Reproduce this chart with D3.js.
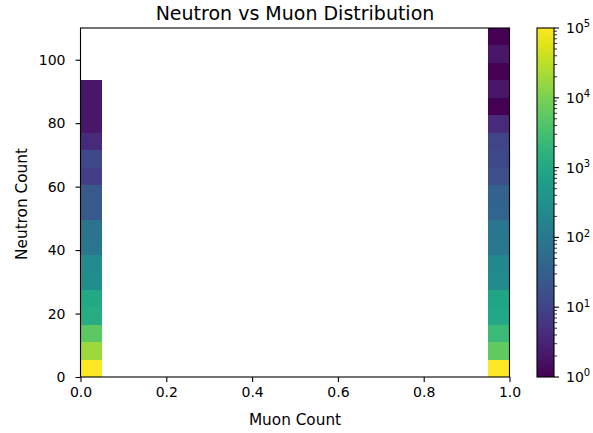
<!DOCTYPE html>
<html>
<head>
<meta charset="utf-8">
<script src="https://cdn.jsdelivr.net/npm/d3@7"></script>
<style>
  body { margin: 0; background: #fff; }
  text { font-family: "DejaVu Sans", sans-serif; fill: #000; }
</style>
</head>
<body>
<div id="chart"></div>
<script>
// bin edges of the 2d histogram
var muonEdges = [0, 0.05, 0.1, 0.15, 0.2, 0.25, 0.3, 0.35, 0.4, 0.45, 0.5,
                 0.55, 0.6, 0.65, 0.7, 0.75, 0.8, 0.85, 0.9, 0.95, 1.0];
var neutronEdges = [0, 5.5, 11, 16.5, 22, 27.5, 33, 38.5, 44, 49.5, 55,
                    60.5, 66, 71.5, 77, 82.5, 88, 93.5, 99, 104.5, 110];

// counts per neutron bin (bottom to top), for muon bin 0 and muon bin 19
var countsMuon0 = [100000, 18000, 5600, 1300, 1000, 280, 250, 90, 80, 25, 25,
                   8, 12, 4, 2, 2, 2];
var countsMuon1 = [95000, 6000, 2500, 1000, 900, 250, 220, 100, 90, 40, 35,
                   15, 12, 10, 4, 1, 2, 1, 2, 1];

var xTicks = [0, 0.2, 0.4, 0.6, 0.8, 1.0];
var yTicks = [0, 20, 40, 60, 80, 100];
var cbarDecades = [0, 1, 2, 3, 4, 5];

// flatten into cells
var cells = [];
countsMuon0.forEach(function(c, i) {
  cells.push({x0: muonEdges[0], x1: muonEdges[1], y0: neutronEdges[i], y1: neutronEdges[i + 1], count: c});
});
countsMuon1.forEach(function(c, i) {
  cells.push({x0: muonEdges[19], x1: muonEdges[20], y0: neutronEdges[i], y1: neutronEdges[i + 1], count: c});
});

var W = 593, H = 433;
var plot = {left: 80.5, right: 509.5, top: 28, bottom: 377};
var cbar = {left: 537, right: 554};

var x = d3.scaleLinear().domain([0, 1]).range([plot.left, plot.right]);
var y = d3.scaleLinear().domain([0, 110]).range([plot.bottom, plot.top]);
var color = d3.scaleSequentialLog(d3.interpolateViridis).domain([1, 1e5]);
var cy = d3.scaleLog().domain([1, 1e5]).range([plot.bottom, plot.top]);

var svg = d3.select("#chart").append("svg")
    .attr("width", W)
    .attr("height", H);

// histogram cells
svg.append("g")
    .attr("shape-rendering", "crispEdges")
  .selectAll("rect")
    .data(cells)
  .enter().append("rect")
    .attr("x", function(d) { return x(d.x0); })
    .attr("y", function(d) { return y(d.y1); })
    .attr("width", function(d) { return x(d.x1) - x(d.x0); })
    .attr("height", function(d) { return y(d.y0) - y(d.y1); })
    .attr("fill", function(d) { return color(d.count); });

// axes
var tickFs = "14px", labelFs = "15.3px";
var xAxis = svg.append("g")
    .attr("transform", "translate(0," + plot.bottom + ")")
    .call(d3.axisBottom(x).tickValues(xTicks).tickFormat(d3.format(".1f")).tickSizeOuter(0).tickSize(5).tickPadding(5.5));
var yAxis = svg.append("g")
    .attr("transform", "translate(" + plot.left + ",0)")
    .call(d3.axisLeft(y).tickValues(yTicks).tickSizeOuter(0).tickSize(5).tickPadding(10));
[xAxis, yAxis].forEach(function(a) {
  a.select(".domain").remove();
  a.selectAll("line").attr("stroke", "#000").attr("stroke-width", 1.1);
  a.selectAll("text").style("font-family", "DejaVu Sans").style("font-size", tickFs).attr("fill", "#000");
});

// frame
svg.append("rect")
    .attr("x", plot.left)
    .attr("y", plot.top)
    .attr("width", plot.right - plot.left)
    .attr("height", plot.bottom - plot.top)
    .attr("fill", "none")
    .attr("stroke", "#000")
    .attr("stroke-width", 1.1);

// labels
svg.append("text")
    .attr("x", (plot.left + plot.right) / 2)
    .attr("y", 19.5)
    .style("text-anchor", "middle")
    .style("font-size", "19px")
    .text("Neutron vs Muon Distribution");

svg.append("text")
    .attr("x", (plot.left + plot.right) / 2)
    .attr("y", 424.5)
    .style("text-anchor", "middle")
    .style("font-size", labelFs)
    .text("Muon Count");

svg.append("text")
    .attr("transform", "translate(27,204)rotate(-90)")
    .style("text-anchor", "middle")
    .style("font-size", labelFs)
    .text("Neutron Count");

// colorbar
var defs = svg.append("defs");
var grad = defs.append("linearGradient")
    .attr("id", "viridis")
    .attr("x1", "0").attr("y1", "1").attr("x2", "0").attr("y2", "0");
d3.range(0, 1.001, 0.05).forEach(function(t) {
  grad.append("stop")
      .attr("offset", t)
      .attr("stop-color", d3.interpolateViridis(t));
});
svg.append("rect")
    .attr("x", cbar.left)
    .attr("y", plot.top)
    .attr("width", cbar.right - cbar.left)
    .attr("height", plot.bottom - plot.top)
    .attr("fill", "url(#viridis)")
    .attr("stroke", "#000")
    .attr("stroke-width", 1.1);

var minor = [];
cbarDecades.slice(0, -1).forEach(function(k) {
  for (var m = 2; m <= 9; m++) minor.push(m * Math.pow(10, k));
});
svg.append("g").selectAll("line")
    .data(minor)
  .enter().append("line")
    .attr("x1", cbar.right).attr("x2", cbar.right + 3)
    .attr("y1", function(d) { return cy(d); })
    .attr("y2", function(d) { return cy(d); })
    .attr("stroke", "#000").attr("stroke-width", 0.8);

var maj = svg.append("g").selectAll("g")
    .data(cbarDecades)
  .enter().append("g")
    .attr("transform", function(d) { return "translate(0," + cy(Math.pow(10, d)) + ")"; });
maj.append("line")
    .attr("x1", cbar.right).attr("x2", cbar.right + 5)
    .attr("stroke", "#000").attr("stroke-width", 1.1);
var lbl = maj.append("text")
    .attr("x", cbar.right + 12)
    .attr("dy", "0.35em")
    .style("font-size", tickFs);
lbl.append("tspan").text("10");
lbl.append("tspan")
    .attr("dy", "-0.55em")
    .style("font-size", "10px")
    .text(function(d) { return d; });
</script>
</body>
</html>
